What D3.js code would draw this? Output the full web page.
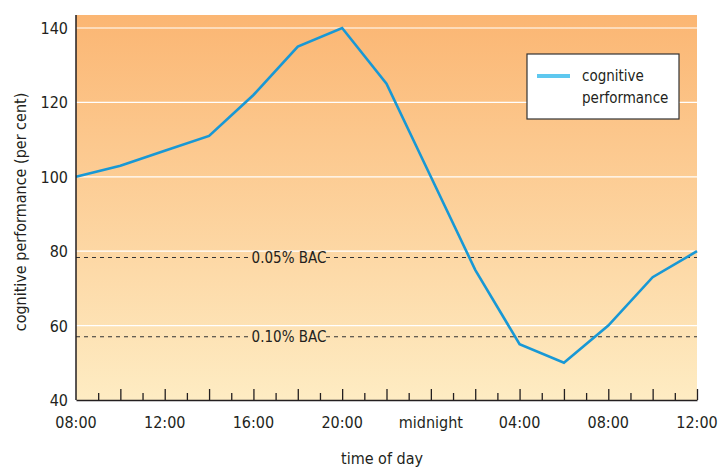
<!DOCTYPE html>
<html>
<head>
<meta charset="utf-8">
<script src="https://cdn.jsdelivr.net/npm/d3@7"></script>
<style>
  body { margin: 0; background: #fff; }
  svg text { font-family: "Liberation Sans Narrow", "DejaVu Sans Condensed", sans-serif; fill: #231f20; }
</style>
</head>
<body>
<div id="chart"></div>
<script>
// hours since 08:00 on day one
let hours = [0, 2, 4, 6, 8, 10, 12, 14, 16, 18, 20, 22, 24, 26, 28];
let performance = [100, 103, 107, 111, 122, 135, 140, 125, 100, 75, 55, 50, 60, 73, 80];

let tickHours = [0, 4, 8, 12, 16, 20, 24, 28];
let tickLabels = ["08:00", "12:00", "16:00", "20:00", "midnight", "04:00", "08:00", "12:00"];
let yTicks = [40, 60, 80, 100, 120, 140];

let bacLevels = [78.3, 57];
let bacLabels = ["0.05% BAC", "0.10% BAC"];

let width = 720, height = 468;
let margin = { top: 15, bottom: 68, left: 76, right: 23 };

let svg = d3.select("#chart")
            .append("svg")
            .attr("width", width)
            .attr("height", height);

let xscale = d3.scaleLinear()
               .domain([0, 28])
               .range([margin.left, width - margin.right]);

let yscale = d3.scaleLinear()
               .domain([40, 140])
               .range([400, 28]);

// background gradient
let grad = svg.append("defs").append("linearGradient")
              .attr("id", "bg")
              .attr("x1", 0).attr("y1", 0).attr("x2", 0).attr("y2", 1);
grad.append("stop").attr("offset", "0%").attr("stop-color", "#fbb673");
grad.append("stop").attr("offset", "100%").attr("stop-color", "#feecc3");

svg.append("rect")
   .attr("x", margin.left)
   .attr("y", margin.top)
   .attr("width", xscale(28) - margin.left)
   .attr("height", yscale(40) - margin.top)
   .attr("fill", "url(#bg)");

// white grid lines
svg.selectAll(".grid")
   .data(yTicks.filter(d => d > 40))
   .enter()
   .append("line")
   .attr("x1", margin.left)
   .attr("x2", xscale(28))
   .attr("y1", d => yscale(d))
   .attr("y2", d => yscale(d))
   .attr("stroke", "#fff")
   .attr("stroke-width", 1.2);

// BAC dashed lines with labels
let labelX = 289;
bacLevels.forEach((v, i) => {
  let y = yscale(v);
  svg.append("line")
     .attr("x1", margin.left).attr("x2", labelX - 37)
     .attr("y1", y).attr("y2", y)
     .attr("stroke", "#333").attr("stroke-dasharray", "4,4").attr("stroke-width", 1.1);
  svg.append("line")
     .attr("x1", labelX + 37).attr("x2", xscale(28))
     .attr("y1", y).attr("y2", y)
     .attr("stroke", "#333").attr("stroke-dasharray", "4,4").attr("stroke-width", 1.1);
  svg.append("text")
     .text(bacLabels[i])
     .attr("x", labelX)
     .attr("y", y + 5)
     .attr("text-anchor", "middle")
     .attr("font-size", 15);
});

// performance line
let line = d3.line()
             .x((d, i) => xscale(hours[i]))
             .y(d => yscale(d));

svg.append("path")
   .datum(performance)
   .attr("d", line)
   .attr("fill", "none")
   .attr("stroke", "#1898d5")
   .attr("stroke-width", 2.6)
   .attr("stroke-linejoin", "miter");

// y axis
svg.append("line")
   .attr("x1", margin.left).attr("x2", margin.left)
   .attr("y1", margin.top).attr("y2", yscale(40))
   .attr("stroke", "#231f20").attr("stroke-width", 1.5);

svg.selectAll(".ylab")
   .data(yTicks)
   .enter()
   .append("text")
   .text(d => d)
   .attr("x", margin.left - 8)
   .attr("y", d => yscale(d) + 6)
   .attr("text-anchor", "end")
   .attr("font-size", 16);

// x axis with inward ticks
let xaxis = svg.append("g")
               .attr("transform", `translate(0,${yscale(40)})`)
               .call(d3.axisBottom(xscale)
                       .tickValues(d3.range(1, 29))
                       .tickSize(0)
                       .tickFormat(""));
xaxis.select(".domain").attr("stroke", "#231f20").attr("stroke-width", 1.5);
xaxis.selectAll(".tick line")
     .attr("y2", d => d % 2 === 0 ? -11 : -7)
     .attr("stroke", "#231f20")
     .attr("stroke-width", 1.3);

svg.selectAll(".xlab")
   .data(tickHours)
   .enter()
   .append("text")
   .text((d, i) => tickLabels[i])
   .attr("x", d => xscale(d))
   .attr("y", 428)
   .attr("text-anchor", "middle")
   .attr("font-size", 16);

svg.append("text")
   .text("time of day")
   .attr("x", 382)
   .attr("y", 464)
   .attr("text-anchor", "middle")
   .attr("font-size", 16);

svg.append("text")
   .text("cognitive performance (per cent)")
   .attr("transform", "translate(26,212) rotate(-90)")
   .attr("text-anchor", "middle")
   .attr("font-size", 16);

// legend
let legend = svg.append("g").attr("transform", "translate(527,54)");
legend.append("rect")
      .attr("width", 152).attr("height", 65)
      .attr("fill", "#fff").attr("stroke", "#333").attr("stroke-width", 1.2);
legend.append("line")
      .attr("x1", 10).attr("x2", 43).attr("y1", 22).attr("y2", 22)
      .attr("stroke", "#5ec8ef").attr("stroke-width", 4);
legend.append("text").text("cognitive").attr("x", 55).attr("y", 27).attr("font-size", 15);
legend.append("text").text("performance").attr("x", 55).attr("y", 49).attr("font-size", 15);
</script>
</body>
</html>
